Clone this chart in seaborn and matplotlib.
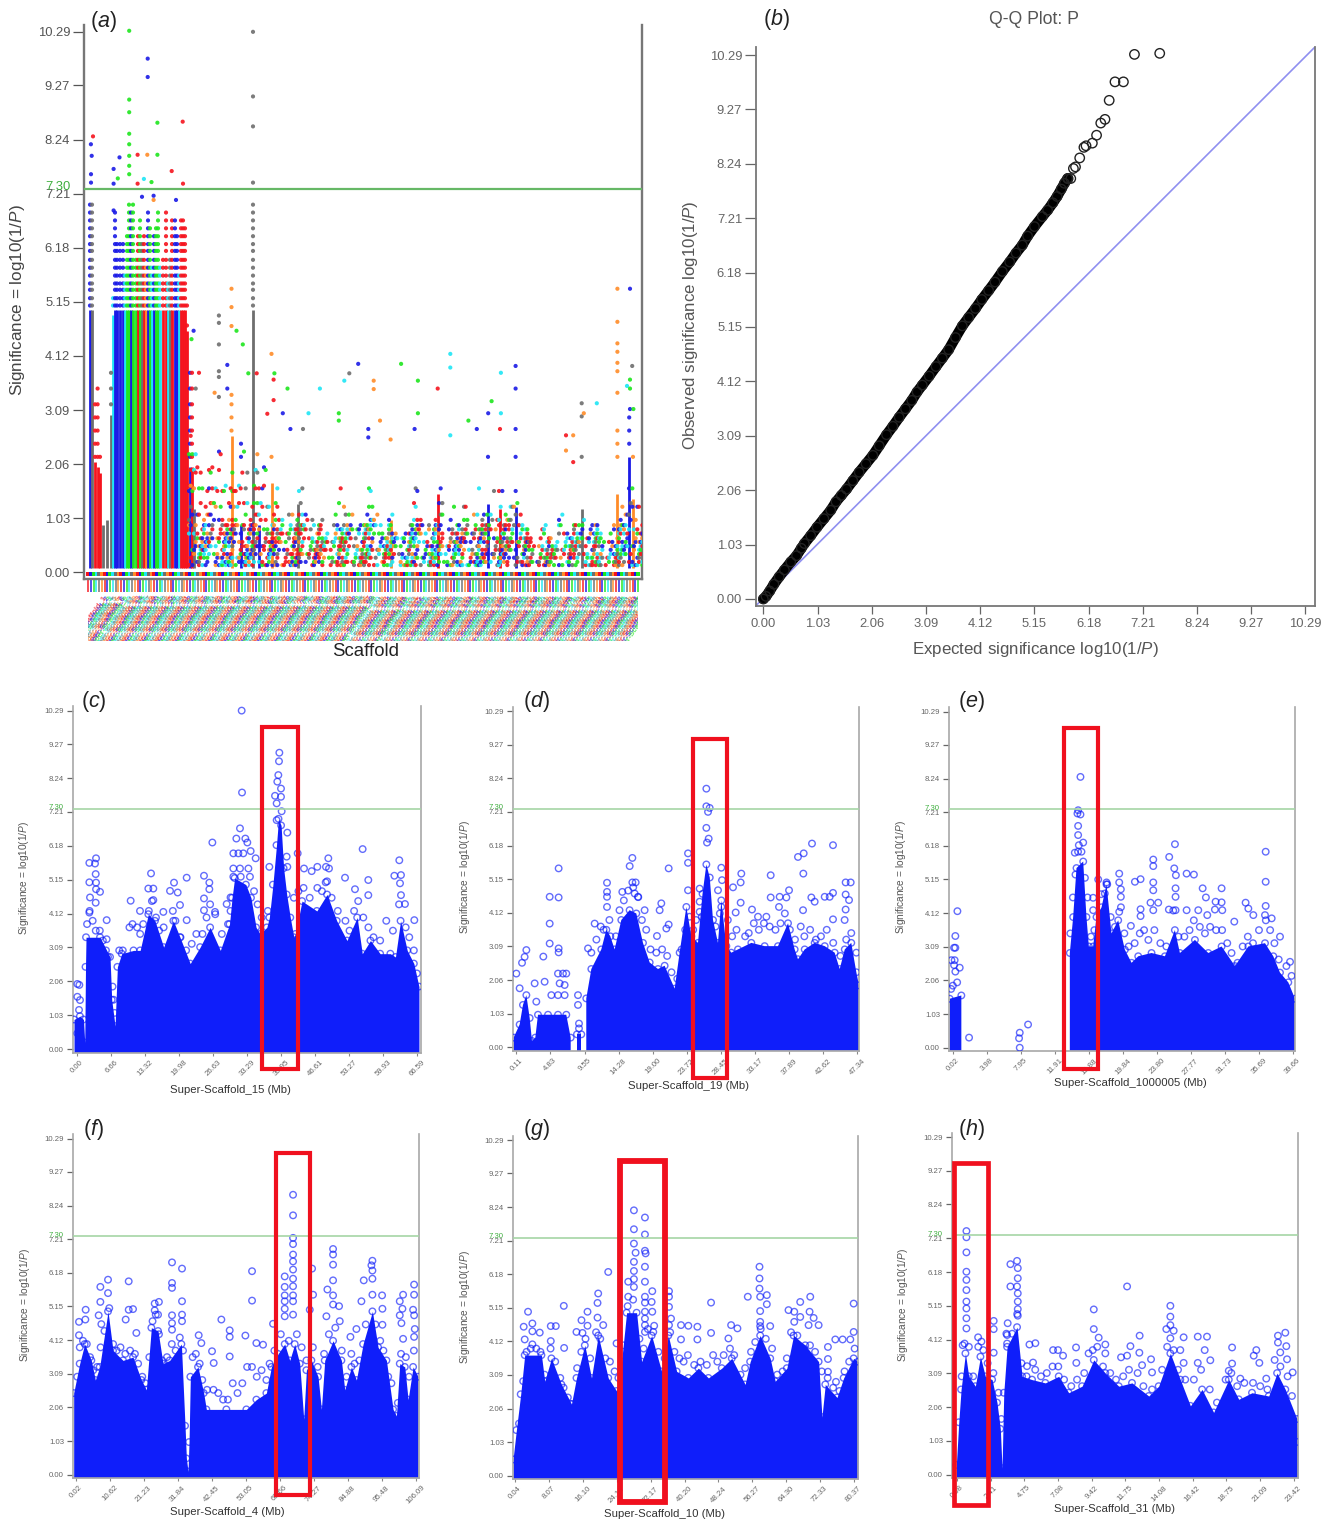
# GWAS figure: genome wide Manhattan, Q-Q plot and six scaffold Manhattan panels
import numpy as np
import pandas as pd
import matplotlib
matplotlib.use("Agg")
import matplotlib.pyplot as plt
from matplotlib.patches import Rectangle
from matplotlib.transforms import Bbox
import seaborn as sns

W, H = 1333, 1520
SIG_TICKS = [0.00, 1.03, 2.06, 3.09, 4.12, 5.15, 6.18, 7.21, 8.24, 9.27, 10.29]
THRESHOLD = 7.30
YLAB = r"Significance = log10(1/$\mathit{P}$)"

# ------------------------------ (a) all scaffolds ------------------------------
A_COLORS = {"r": "#F5141E", "b": "#1A1AE6", "g": "#1EE61E", "c": "#1EE6F5",
            "y": "#6E6E6E", "o": "#FF8C28"}
a_cycle = ["r", "b", "g", "c", "y", "o"]

# solid scaffolds: position, top of the solid part, top of the dots, colour
a_strip_x = [6, 8, 11, 13.6, 16, 19, 23, 27, 29, 31, 33, 36, 39, 41, 43, 45, 47, 49, 52, 54, 56, 58, 60,
             62, 64, 66, 68, 70, 72, 74, 76, 79, 82, 84, 86, 88, 91, 93, 95, 97, 99, 101, 103, 106, 108,
             110, 147.5, 157, 169, 175, 187.5, 213.6, 306.6, 353.7, 404, 416, 431.6, 497.7,
             533.4, 545.2, 549]
a_strip_top = [5.0, 5.0, 2.1, 2.0, 1.9, 0.9, 1.0, 3.0, 4.9, 5.0, 5.0, 5.0, 5.0, 5.0, 5.0, 5.0, 5.0, 5.0, 5.0, 5.0, 5.0, 5.0, 5.0,
               5.0, 5.0, 5.0, 5.0, 5.0, 5.0, 5.0, 5.0, 5.0, 5.0, 5.0, 5.0, 5.0, 5.0, 5.0, 5.0, 5.0, 5.0, 5.0, 4.6, 2.0, 2.0,
               1.2, 2.6, 0.9, 5.0, 0.9, 1.7, 1.3, 1.0, 1.5, 1.3, 1.2, 1.25, 1.2,
               1.5, 2.2, 1.4]
a_strip_dots = [7.2, 7.1, 3.2, 3.5, 2.4, 1.3, 1.6, 3.9, 5.3, 6.9, 6.3, 6.3, 6.3, 5.7, 6.5, 7.0, 6.9, 7.0, 6.0, 6.4, 6.7, 6.3, 6.4,
                5.8, 6.9, 6.6, 5.8, 6.4, 6.6, 6.9, 5.8, 6.0, 6.9, 5.6, 6.1, 6.7, 6.7, 6.4, 5.7, 6.7, 6.7, 6.6, 5.2, 3.8, 3.8,
                2.0, 3.3, 2.5, 7.0, 1.7, 2.4, 1.3, 1.0, 1.6, 2.3, 1.6, 2.4, 2.3,
                2.7, 3.1, 2.4]
a_strip_c = ["b", "y", "r", "r", "r", "y", "y", "y", "c", "b", "b", "b", "b", "c", "g", "g", "b", "g", "g", "r", "g", "y", "r",
             "o", "b", "g", "c", "b", "g", "g", "c", "r", "r", "c", "y", "r", "b", "b", "c", "r", "r", "r", "r", "b", "r",
             "y", "o", "b", "y", "b", "o", "y", "o", "r", "b", "r", "b", "y",
             "o", "b", "o"]
a_dot_rows = [2.2, 2.45, 2.7, 2.95, 3.2, 3.5, 3.8, 4.1, 4.4, 4.7, 5.08, 5.22, 5.38, 5.5, 5.65, 5.8,
              5.95, 6.12, 6.25, 6.4, 6.55, 6.7, 6.85, 7.0]

# speckled floor of the small scaffolds, top of each column read left to right
a_col_top = [2.6, 2.3, 1.9, 1.7, 2.2, 1.6, 2.3, 1.7, 2.0, 1.6, 1.9, 2.3, 1.6, 2.3, 1.6, 2.2, 1.3, 1.6, 1.2, 1.0,
             1.3, 1.2, 1.6, 1.3, 1.2, 0.9, 1.0, 0.8, 0.7, 1.2, 1.6, 1.3, 1.2, 0.9, 0.9, 1.3, 1.6, 1.1, 0.9, 0.8,
             1.2, 0.8, 0.9, 0.8, 1.3, 1.6, 1.2, 0.8, 0.9, 1.0, 1.6, 0.8, 1.2, 1.3, 0.9, 1.5, 0.8, 1.3, 1.6, 1.3,
             1.3, 1.6, 1.6, 1.3, 1.3, 1.6, 1.2, 0.9, 0.7, 0.6, 1.0, 0.9, 0.7, 0.6, 1.2, 0.8, 0.7, 0.9, 1.0, 1.2,
             0.9, 1.0, 0.8, 0.7, 0.8, 0.9, 1.4, 1.2, 1.8, 1.4, 1.3]
a_col_rows = [0.14, 0.2, 0.28, 0.35, 0.43, 0.5, 0.58, 0.65, 0.74, 0.82, 0.9, 1.0, 1.1, 1.25, 1.32, 1.55, 1.6, 1.65,
              1.9, 1.95, 2.0, 2.25, 2.3, 2.6]
# hand picked fill pattern and colour order, which keep the floor irregular
a_mask = [1, 0, 0, 1, 0, 1, 0, 0, 0, 1, 1, 0, 0, 0, 1, 0, 1, 0, 0, 1, 0, 0, 1, 1, 0, 0, 0, 1, 0, 0, 1, 0, 1, 0, 0, 0, 1]
a_color_seq = list("rbgocybrgcroybgrc")

# single points standing clear of the columns
a_out_x = [6.9, 9, 7.7, 7.0, 7.0, 45.2, 63.7, 63.7, 45.2, 45.2, 73.4, 45.2, 98.7, 45.2, 45.2, 53.6, 63.3, 73.4,
           35.5, 29.6, 87.7, 59.9, 67.5, 99, 53.6, 29.6, 33.8, 45.2, 45.2, 169, 169, 169, 169, 58, 69.6, 92, 69.6, 29.6,
           147.5, 147.5, 147.5, 134.9, 134.9, 134.9, 152.5, 158.8, 187.5, 189.6, 189.6, 190.4, 134.9, 134.9, 143.3,
           143.3, 130.6, 134.9, 147.5, 115, 107.5, 109.6, 111.7, 164.3, 172.7, 183.3, 203.5, 198.8, 224.5, 235.9,
           289.7, 289.7, 353.7, 274.2, 265.3, 260.3, 317.1, 333.9, 333.9, 366.3, 366.3, 416.9, 431.6, 431.6, 407.6,
           404.2, 416.9, 497.7, 497.7, 499.8, 512.8, 533.4, 546, 533.4, 533.4, 533.4, 533.4, 533.4, 533.4, 548.2,
           546, 543, 546, 546, 549.4, 482, 482, 489.2, 489.2, 384.4, 296, 306.6, 254.8, 254.8, 284.3, 284.3, 330.6,
           392.8, 431.6, 416, 219, 206.4, 366.3]
a_out_y = [8.15, 8.3, 7.93, 7.58, 7.42, 10.31, 9.78, 9.43, 9.0, 8.76, 8.56, 8.35, 8.58, 8.15, 7.93, 7.95, 7.95, 7.95,
           7.9, 7.68, 7.64, 7.49, 7.43, 7.4, 7.4, 7.4, 7.5, 7.74, 7.58, 10.29, 9.06, 8.49, 7.42, 7.15, 7.17, 7.09, 7.09, 6.89,
           5.4, 5.05, 4.69, 4.89, 4.75, 4.34, 4.6, 4.34, 4.16, 3.67, 3.28, 3.79, 3.83, 3.72, 3.95,
           3.5, 3.42, 3.34, 3.38, 3.8, 4.44, 4.6, 3.5, 3.79, 3.79, 3.02, 3.5, 3.03, 3.03, 3.5,
           3.65, 3.49, 3.5, 3.97, 3.79, 3.65, 3.97, 3.65, 3.03, 4.16, 3.9, 3.8, 3.93, 3.5, 3.26,
           3.03, 3.03, 3.22, 2.97, 3.03, 3.22, 5.4, 5.4, 4.77, 4.36, 4.2, 3.99, 3.83, 3.42, 3.93,
           3.67, 3.55, 3.5, 3.11, 3.11, 2.61, 2.32, 2.61, 2.1, 2.89, 2.89, 2.53, 3.03, 2.89, 2.73, 2.57, 2.73,
           2.73, 2.73, 2.73, 2.73, 2.73, 2.61]
a_out_c = list("brbbbgbbggggrggrog" "bbrcgrrbgggyyyybbbob" "oooyyyggorrgyyb" "boyorgbygrrgbcc"
               "oorbycgggcccbbg" "bcyyocobooooooy" "gcgbgroorgooggbbb" "bbrybc")

# ------------------------------ (b) Q-Q plot ------------------------------
qq_expected = [0.00, 0.05, 0.12, 0.20, 0.30, 0.40, 0.52, 0.63, 0.72, 0.78,
               0.90, 1.02, 1.15, 1.28, 1.38, 1.48, 1.58, 1.70, 1.82, 1.95,
               2.08, 2.20, 2.34, 2.46, 2.58, 2.70, 2.82, 2.92, 3.02, 3.15,
               3.28, 3.40, 3.52, 3.65, 3.78, 3.90, 4.03, 4.15, 4.28, 4.40,
               4.54, 4.68, 4.80, 4.92, 5.02, 5.15, 5.30, 5.40, 5.50, 5.58,
               5.66, 5.72, 5.78]
qq_observed = [0.00, 0.05, 0.15, 0.28, 0.42, 0.55, 0.70, 0.82, 0.96, 1.05,
               1.20, 1.36, 1.52, 1.68, 1.84, 1.96, 2.08, 2.24, 2.40, 2.56,
               2.72, 2.90, 3.11, 3.27, 3.44, 3.60, 3.76, 3.92, 4.05, 4.22,
               4.40, 4.56, 4.72, 4.95, 5.17, 5.33, 5.50, 5.67, 5.84, 6.00,
               6.20, 6.38, 6.55, 6.70, 6.87, 7.05, 7.24, 7.36, 7.50, 7.62,
               7.76, 7.87, 7.96]
qq_tail_e = [5.79, 5.84, 5.89, 5.93, 6.01, 6.09, 6.13, 6.25, 6.33, 6.41, 6.49, 6.57, 6.68, 6.84, 7.05, 7.53]
qq_tail_o = [7.96, 7.96, 8.15, 8.18, 8.35, 8.55, 8.58, 8.63, 8.78, 9.01, 9.08, 9.44, 9.79, 9.79, 10.31, 10.33]

# ------------------------------ (c) Super-Scaffold_15 ------------------------------
c_ticks = ["0.00", "6.66", "13.32", "19.98", "26.63", "33.29", "39.95", "46.61", "53.27", "59.93", "66.59"]
c_env_x = [-0.65, 0.5, 1.2, 1.45, 1.6, 1.7, 4.44, 6.4, 6.73, 7.39, 7.84, 8.69, 11, 12.3, 13.9, 15.2, 16.9, 18.8,
           20.1, 22.1, 24.05, 26, 28, 29.8, 30.3, 30.8, 33.0, 34.0, 35.0, 35.8, 37.1, 37.6, 38.3, 39.0, 39.4, 39.9,
           40.4, 41.0, 41.7, 42.4, 42.7, 44, 46.9, 48.9,
           50.8, 52.8, 54.8, 55.8, 57.4, 59.3, 61.3, 62.3, 63.3, 64.6, 65.9, 66.9]
c_env_y = [0.9, 1.0, 0.9, 0.2, 2.5, 3.4, 3.4, 2.8, 1.5, 0.7, 2.5, 2.9, 3.0, 3.0, 4.1, 3.9, 3.1, 3.9,
           3.4, 2.6, 3.1, 3.7, 3.0, 3.8, 4.6, 5.2, 5.0, 4.6, 3.7, 3.5, 3.7, 4.0, 5.0, 6.2, 7.0, 6.8,
           5.5, 4.7, 4.0, 3.4, 3.5, 4.5, 4.2, 4.7,
           3.9, 3.3, 4.0, 2.9, 3.3, 2.9, 2.9, 2.8, 3.9, 3.0, 2.6, 1.9]
c_out_x = [32.18, 32.25, 31.85, 31.14, 32.9, 33.29, 26.44, 33.94, 34.92, 37.6, 39.56, 39.49, 39.36, 39.16, 39.88, 38.71,
           39.88, 39.03, 40.01, 39.03, 41.12, 40.99, 41.12, 43.15, 44.39, 45.89, 47, 48.69, 49.15, 49.28, 48.63, 52.42,
           55.87, 54.37, 56.98, 56.98, 63.05, 62.08, 63.38, 63.19, 63.38, 64.16, 65.99, 2.35, 3.66, 3.46, 3.59, 2.35,
           3.66, 3.66, 4.44, 2.48, 3.59, 2.35, 5.74, 5.74, 10.44, 12.27, 14.43, 13.9, 14.88, 14.88, 16.84, 18.93, 18.15,
           19.65, 20.1, 21.41, 21.41, 24.8, 25.85, 25.85, 24.8, 24.8, 26.96, 29.24, 30, 30.55, 31.54, 32.5, 30.55, 31.85,
           33.5, 30.55, 32.0, 33.8, 0, 0.39, 0, 0.52, 0.33, 0]
c_out_y = [10.29, 7.8, 6.71, 6.4, 6.4, 6.28, 6.28, 6.02, 5.8, 5.54, 9.01, 8.75, 8.33, 8.13, 7.92, 7.7,
           7.67, 7.47, 7.23, 6.96, 6.58, 5.85, 5.54, 5.95, 5.49, 5.41, 5.54, 5.54, 5.8, 5.49, 5.07, 5.21,
           6.08, 4.86, 5.14, 4.68, 5.74, 5.27, 5.29, 5.04, 4.68, 4.41, 3.92, 5.66, 5.8, 5.64, 5.32, 5.07,
           5.06, 4.86, 4.78, 4.61, 4.45, 4.15, 3.92, 3.34, 4.51, 4.2, 5.34, 4.88, 4.88, 4.53, 4.17, 5.06, 4.81,
           4.76, 4.38, 5.21, 3.92, 5.27, 5.06, 4.86, 4.58, 4.22, 4.17, 4.41, 4.61, 5.95, 5.95, 5.95, 5.49, 5.49,
           5.49, 5.24, 5.24, 5.24, 1.98, 1.95, 1.59, 1.49, 1.19, 0.48]
# rings crowding the upper edge of the solid mass
c_edge_x = [1.9, 2.4, 3.0, 3.6, 4.4, 5.0, 5.6, 6.0, 6.9, 7.1, 7.3, 8.2, 8.9, 10.2, 10.8, 11.7, 12.3, 12.9, 14.0, 14.6,
            15.4, 16.0, 16.9, 18.7, 19.2, 20.2, 21.3, 22.4, 23.3, 24.5, 25.3, 26.0, 27, 28.3, 29.5, 30, 34.6, 35.3, 36.1,
            37.3, 42.4, 43.3, 44.3, 45.5, 47, 47.9, 48.9, 49.8, 51, 52.5, 53.3, 54.2, 55, 56, 57, 58, 59.3, 60.5, 61.8,
            63, 64.3, 65, 65.9, 66.5]
c_edge_y = [3.8, 4.2, 3.9, 3.6, 3.6, 3.3, 3.0, 2.8, 1.9, 1.5, 1.1, 3.0, 3.0, 3.7, 3.8, 3.7, 3.5, 3.8, 4.2, 4.5,
            4.0, 3.6, 3.7, 4.2, 3.9, 3.4, 3.0, 3.2, 3.5, 3.5, 4.0, 4.4, 4.1, 3.5, 3.8, 4.2, 4.8, 4.4, 4.0,
            4.2, 4.6, 4.8, 4.9, 4.6, 4.9, 4.8, 5.1, 4.6, 4.2, 3.9, 3.6, 4.2, 4.5, 4.0, 3.7, 3.4, 3.3, 3.9, 3.6,
            4.4, 3.7, 3.4, 3.0, 2.3]

# ------------------------------ (d) Super-Scaffold_19 ------------------------------
d_ticks = ["0.11", "4.83", "9.55", "14.28", "19.00", "23.72", "28.45", "33.17", "37.89", "42.62", "47.34"]
d_env_x = [-0.26, 0.57, 1.03, 1.5, 1.96, 2.28, 2.74, 3.11, 4.5, 5.88, 7.03, 7.64, 7.96, 8.42, 8.51, 9.11, 9.3, 9.57,
           9.8, 10.5, 11.88, 12.58, 13.13, 13.73, 14.65, 15.8, 16.73, 17.65, 18.58, 19.73, 20.65, 22.04, 22.73, 23.66,
           24.35, 25.27, 25.9, 26.43, 26.9, 27.35, 28.04, 28.5, 29.2, 29.89, 30.81, 32.66, 34.5, 36.35, 37.74, 38.66, 39.12, 40.05,
           41.43, 42.82, 44.2, 44.9, 45.6, 46.5, 47.2, 47.57]
d_env_y = [0.3, 0.7, 1.3, 1.6, 0.9, 0.2, 0.3, 1.0, 1.0, 1.0, 1.0, 0.3, 0, 0, 0.4, 0.4, 0, 0,
           1.5, 2.4, 3.0, 3.6, 3.4, 3.0, 3.9, 4.2, 4.1, 3.2, 2.6, 2.4, 2.5, 1.8, 2.9, 4.3,
           3.4, 3.2, 4.7, 5.6, 5.2, 3.9, 3.2, 4.5, 3.1, 2.9, 3.0, 3.2, 3.1, 3.1, 3.8, 3.0, 2.7, 3.0,
           3.2, 3.1, 2.9, 2.4, 3.0, 3.2, 2.3, 1.9]
d_out_x = [26.43, 26.43, 26.89, 26.66, 26.43, 26.75, 26.52, 23.89, 23.89, 21.21, 16.18, 15.81, 5.97, 4.73, 5.97, 4.73,
           4.73, 5.97, 5.97, 3.85, 1.5, 1.26, 0.9, 0.11, 0.57, 41.06, 43.97, 39.91, 39.12, 39.86, 31.27, 31.18, 35.34,
           28.5, 28.6, 30.12, 31.18, 37.88, 35.34, 36.58, 37.51, 40.97, 41.43, 42.82, 43.51, 43.97, 45.72, 46.42, 45.72,
           46.19, 45.72, 45.58, 12.67, 12.67, 12.67, 14.79, 16.18, 16.64, 16.5, 16.96, 17.88, 20.19, 19.96, 19.59, 20.89,
           21.21, 32.75, 30.49, 23.89, 25.5, 25.5, 25.5, 28.04, 28.5, 10.96, 10.04, 12.67, 39.82, 36.49, 33.58, 34.74,
           43.97, 2.65, 4.03, 4.96, 5.88, 6.57, 7.03, 6.11, 6.8, 6.8, 5.88, 2.88, 8.65, 8.65, 8.79, 8.79]
d_out_y = [7.92, 7.38, 7.33, 7.21, 6.72, 6.39, 6.27, 5.94, 5.65, 5.48, 5.8, 5.55, 5.48, 4.61, 4.59, 3.79,
           3.18, 3.03, 2.91, 2.78, 2.98, 2.77, 2.59, 2.26, 1.81, 6.24, 6.19, 5.94, 5.83, 5.32, 5.32, 5.05, 5.27,
           5.5, 5.12, 4.9, 4.43, 4.81, 4.59, 4.61, 4.59, 4.59, 4.46, 4.61, 4.61, 4.73, 5.05, 5.05, 4.68,
           4.51, 4.22, 3.9, 5.04, 4.76, 4.61, 4.76, 5.05, 5.05, 4.71, 4.61, 4.2, 4.41, 4.2, 3.41, 3.64,
           3.76, 4.22, 4.13, 4.81, 4.86, 4.46, 4.15, 4.81, 4.3, 3.79, 3.03, 4.3, 4.2, 4.3, 4.0, 4.0,
           3.92, 1.96, 2.01, 1.6, 2.26, 2.26, 2.26, 1.96, 1.91, 1.6, 1.6, 1.4, 1.6, 1.3, 0.73, 0.58]
d_edge_x = [10.5, 11.2, 11.8, 12.2, 13.0, 13.9, 14.4, 15, 15.6, 16.3, 17, 17.5, 18.1, 18.7, 19.5, 20.3, 21, 21.6, 22.4,
            23, 23.5, 24.1, 24.6, 25, 25.8, 27.7, 28.3, 29.4, 30, 30.6, 31.8, 32.3, 33, 33.7, 34.4, 35.2, 36, 36.7, 37.3,
            38, 38.7, 39.5, 40, 40.8, 41.6, 42.3, 43.1, 44, 45, 45.8, 46.5, 47.2]
d_edge_y = [2.9, 3.3, 3.7, 3.6, 3.9, 3.4, 4.2, 4.5, 4.8, 4.9, 4.6, 3.9, 3.6, 3.0, 2.9, 3.0, 2.8, 2.3, 2.1,
            3.0, 3.6, 4.0, 3.6, 3.9, 4.0, 3.7, 4.1, 3.9, 3.4, 3.6, 3.4, 3.5, 3.8, 3.6, 3.8, 3.7, 3.6, 3.8, 4.1,
            3.6, 3.3, 3.7, 3.4, 3.6, 3.3, 3.4, 3.6, 3.2, 2.8, 3.3, 3.5, 2.9]

# ------------------------------ (e) Super-Scaffold_1000005 ------------------------------
e_ticks = ["0.02", "3.98", "7.95", "11.91", "15.88", "19.84", "23.80", "27.77", "31.73", "35.69", "39.66"]
e_env_x = [-0.45, -0.37, 0.99, 1.19, 13.56, 13.64, 14.03, 14.42, 15.2, 15.58, 15.86, 16.36, 16.75, 17.34, 17.92, 18.5,
           19.28, 20.06, 20.84, 21.62, 23.17, 24.73, 25.89, 26.48, 28.23, 29.79, 31.34, 32.9, 34.46, 36.4, 37.37, 38.15,
           39.12, 39.9]
e_env_y = [0, 1.5, 1.6, 0, 0, 2.9, 4.0, 5.5, 5.7, 4.0, 3.1, 3.1, 4.0, 4.3, 5.0, 3.5,
           3.9, 3.0, 2.6, 2.8, 2.9, 2.8, 3.6, 2.9, 3.3, 2.9, 3.1, 2.5, 3.1, 3.2, 2.8, 2.3,
           2.0, 1.5]
e_out_x = [0.53, 0.29, 0.14, 0.29, 0.21, -0.17, 0.14, 0.8, 0.29, 1.89, 7.8, 7.72, 7.8, 8.77, 14.88, 14.61, 14.53, 14.88,
           14.61, 14.61, 14.69, 15.2, 14.22, 16.95, 16.36, 16.36, 17.92, 17.72, 19.4, 19.4, 19.59, 19.59, 19.4, 21.23,
           21.89, 21.89, 21.89, 20.76, 23.37, 23.37, 23.37, 23.37, 23.05, 23.95, 23.37, 25.23, 25.9, 25.82, 26.01, 25.97,
           25.97, 25.97, 25.19, 27.26, 28.11, 27.26, 28.62, 29.13, 29.51, 29.67, 31.34, 30.64, 31.34, 30.56, 31.42, 32.82,
           34.14, 34.46, 35.04, 36.48, 36.48, 36.48, 36.4, 37.18, 38.15, 39.32]
e_out_y = [4.18, 3.42, 3.06, 3.06, 2.68, 2.68, 2.53, 2.45, 2.33, 0.31, 0.46, 0.29, 0.0, 0.71, 8.29, 7.27, 7.17, 7.14,
           6.79, 6.51, 6.2, 6.28, 5.97, 5.15, 4.59, 4.21, 5.06, 4.72, 5.33, 5.06, 4.85, 4.62, 4.16, 5.08,
           5.16, 4.24, 4.03, 3.73, 5.76, 5.56, 5.06, 4.82, 4.44, 4.44, 4.21, 5.84, 6.23, 5.49, 5.28, 4.88,
           4.62, 4.21, 4.23, 5.33, 5.3, 4.21, 4.21, 4.88, 4.6, 4.06, 4.88, 4.47, 4.45, 4.23, 4.21, 3.86,
           4.44, 4.26, 4.06, 6.0, 5.08, 4.34, 4.06, 3.96, 3.4, 2.63]
e_edge_x = [13.7, 14, 14.3, 14.6, 15, 15.4, 15.7, 16.1, 16.5, 17.3, 18, 18.4, 18.9, 19.6, 20, 20.5, 21.2, 21.8, 22.3, 22.8,
            23.5, 24.2, 24.9, 25.7, 26.3, 27, 27.6, 28.1, 28.8, 29.4, 30, 30.7, 31.4, 32, 32.5, 33.2, 33.8, 34.4, 35, 35.7,
            36.5, 37, 37.5, 38, 38.9, 39.5, 0.0, 0.5, -0.2]
e_edge_y = [3.5, 4.6, 5.3, 6.0, 6.0, 5.2, 4.6, 3.4, 3.6, 4.7, 5.0, 4.0, 3.7, 4.3, 3.5, 3.1, 3.2, 3.5, 3.6, 3.3,
            3.6, 3.2, 3.1, 4.2, 3.4, 3.4, 3.6, 3.9, 3.7, 3.5, 3.7, 3.6, 3.6, 3.2, 2.9, 2.6, 3.1, 3.4, 3.2, 3.6,
            3.9, 3.6, 3.2, 2.7, 2.5, 2.2, 1.9, 2.0, 1.8]

# ------------------------------ (f) Super-Scaffold_4 ------------------------------
f_ticks = ["0.02", "10.62", "21.23", "31.84", "42.45", "53.05", "63.66", "74.27", "84.88", "95.48", "106.09"]
f_env_x = [-0.6, 1.27, 2.83, 4.91, 6.16, 7.51, 10.11, 11.67, 14.79, 17.91, 20.51, 22.07, 23.63, 25.71, 27.27, 29.35,
           32.99, 34.13, 34.55, 35.07, 35.38, 35.79, 38.18, 39.95, 40.78, 47.02, 53.26, 56.38, 59.5, 61.06, 63.14, 65.22,
           66.78, 68.34, 69.9, 71.15, 71.98, 73.54, 75.62, 76.66, 77.7, 80.3, 82.9, 83.94, 86.02, 87.58, 89.66, 92.57,
           94.34, 96.94, 99.02, 100.06, 101.1, 102.66, 103.7, 105.26, 106.82]
f_env_y = [2.5, 3.4, 4.0, 3.5, 2.9, 3.3, 5.0, 3.8, 3.5, 3.6, 2.9, 2.6, 4.5, 4.4, 3.4, 3.5,
           4.0, 1.5, 0.5, 0.1, 1.0, 3.0, 3.3, 2.5, 2.0, 2.0, 2.0, 2.3, 2.5, 3.3, 3.7, 4.0,
           3.5, 4.0, 3.4, 1.7, 3.2, 3.5, 3.0, 2.0, 3.5, 4.1, 3.5, 2.6, 3.3, 2.9, 4.0, 5.0,
           3.9, 3.5, 2.0, 1.8, 3.4, 3.3, 2.3, 3.3, 3.0]
f_out_x = [67.82, 67.82, 67.82, 67.82, 67.82, 67.82, 67.82, 67.82, 67.82, 67.82, 67.82, 67.82, 65.22, 65.22, 65.22, 65.22,
           65.22, 65.22, 61.58, 73.75, 74.06, 73.03, 80.3, 80.3, 80.3, 80.3, 78.53, 80.3, 82.17, 80.3, 78.22, 82.38, 92.57,
           92.26, 92.57, 92.57, 89.87, 92.57, 95.59, 89.14, 95.69, 95.69, 87.58, 85.71, 102.14, 101.1, 101.93, 101.1, 101.62,
           105.57, 105.57, 105.26, 105.57, 105.78, 105.57, 102.14, 55.03, 55.03, 45.46, 48.06, 48.06, 52.95, 56.38, 58.46,
           38.39, 39.22, 42.55, 43.07, 48.06, 30.07, 33.19, 30.07, 30.07, 33.19, 30.07, 30.07, 30.07, 33.19, 33.19, 24.67,
           25.98, 24.67, 25.71, 16.56, 10.11, 7.72, 10.11, 7.72, 7.2, 8.03, 3.14, 1.06, 3.04, 1.06, 16.56, 17.91, 15.62, 18.95]
f_out_y = [8.57, 7.94, 7.25, 7.06, 6.74, 6.53, 6.28, 6.0, 5.77, 5.49, 5.31, 4.9, 6.07, 5.75, 5.49, 5.31,
           5.08, 4.85, 4.62, 6.31, 5.51, 5.05, 6.91, 6.74, 6.43, 5.95, 5.67, 5.49, 5.16, 5.21, 4.85, 4.7, 6.55,
           6.41, 6.25, 6.0, 5.95, 5.51, 5.49, 5.31, 5.08, 4.59, 4.46, 4.22, 5.51, 5.31, 5.08, 4.88, 4.64,
           5.82, 5.51, 5.05, 4.88, 4.46, 4.22, 4.16, 6.23, 5.33, 4.75, 4.42, 4.22, 4.26, 4.03, 3.98,
           4.27, 4.03, 3.78, 3.42, 3.62, 6.5, 6.31, 5.87, 5.72, 5.31, 4.88, 4.64, 4.44, 4.9, 4.7, 5.24,
           5.29, 5.03, 4.9, 5.92, 5.97, 5.75, 5.56, 5.29, 4.88, 4.61, 5.05, 4.68, 4.75, 4.27, 5.05, 5.07, 4.75, 4.34]
f_edge_x = [0.5, 1.3, 2.3, 3.5, 4.5, 5.5, 6.7, 7.8, 9, 10.5, 11.7, 12.8, 14, 15.5, 17, 18.5, 19.5, 20.8, 21.8, 23, 24, 25,
            26, 27, 28.5, 30, 31.2, 32.5, 33.5, 36.5, 37.5, 38.7, 39.5, 41, 43, 44.5, 46, 47.5, 49, 50.5, 52, 53.5, 55,
            56.5, 58, 59.5, 60.5, 62, 64, 66.5, 69, 70.5, 72, 74, 75.5, 77.5, 79, 81, 83, 84.5, 86, 87, 88.5, 90.5, 93.5,
            95, 96, 97.5, 98.5, 100.5, 101.5, 103, 104, 105.5]
f_edge_y = [3.0, 3.9, 4.1, 4.0, 3.6, 3.2, 3.3, 3.9, 4.4, 5.1, 4.0, 3.8, 3.9, 3.7, 3.8, 3.7, 3.4, 3.0, 2.8, 3.6, 4.7, 4.9,
            4.3, 3.5, 3.6, 4.0, 3.8, 4.2, 3.8, 3.6, 3.7, 3.4, 2.9, 2.6, 2.6, 2.5, 2.3, 2.3, 2.8, 2.5, 2.8, 3.3, 3.3,
            3.0, 3.2, 2.9, 3.4, 3.8, 4.3, 4.1, 4.3, 3.9, 3.5, 3.9, 3.3, 3.7, 4.3, 4.5, 3.8, 3.0, 3.7, 3.4, 3.5, 4.6, 4.6,
            4.1, 3.8, 3.0, 2.8, 2.2, 3.7, 3.6, 3.0, 3.8]

# ------------------------------ (g) Super-Scaffold_10 ------------------------------
g_ticks = ["0.04", "8.07", "16.10", "24.14", "32.17", "40.20", "48.24", "56.27", "64.30", "72.33", "80.37"]
g_env_x = [-0.52, 0.28, 1.31, 2.26, 6.23, 7.02, 8.6, 10.98, 13.36, 14.55, 16.53, 18.12, 19.71, 22.09, 24.07, 25.26,
           26.45, 28.83, 30.02, 32.4, 34.77, 36.36, 38.34, 41.12, 43.5, 45.88, 49.05, 51.43, 54.6, 55.79, 58.17, 60.55,
           61.74, 64.51, 66.1, 68.87, 72.05, 72.84, 73.63, 76.41, 77.99, 80.37, 81.4]
g_env_y = [0.5, 1.4, 2.5, 3.7, 3.7, 2.9, 3.6, 2.8, 2.2, 3.0, 4.0, 3.0, 4.3, 3.0, 2.6, 3.5,
           5.0, 5.0, 3.5, 4.3, 3.2, 4.3, 3.2, 3.0, 3.3, 3.0, 3.3, 3.6, 2.8, 3.5, 4.3, 3.6,
           2.9, 3.3, 4.3, 4.0, 3.5, 1.8, 2.8, 2.4, 3.0, 3.6, 3.5]
g_out_x = [28.19, 30.81, 28.19, 30.81, 28.19, 28.59, 30.81, 30.97, 28.19, 30.81, 28.19, 30.81, 28.19, 26.84, 28.19, 32.55,
           30.81, 30.81, 26.84, 30.81, 32.4, 30.81, 32.55, 36.52, 36.52, 36.52, 37, 36.52, 30.81, 30.81, 32.79, 22.09, 19.71,
           19.55, 17.17, 19.55, 15.74, 17.17, 20.9, 14.55, 15.98, 11.54, 3.05, 2.02, 4.08, 4.08, 2.26, 5.83, 8.45, 9.64,
           8.45, 4.08, 11.62, 24.07, 39.37, 41.12, 43.26, 39.37, 43.26, 46.51, 46.51, 51.27, 52.77, 50.63, 55.23, 58.01,
           58.01, 58.01, 58.17, 59.75, 59.75, 58.17, 58.17, 58.17, 60.55, 64.9, 66.26, 67.68, 66.26, 67.68, 70.06, 69.9,
           70.87, 72.05, 69.67, 74.26, 76.01, 77.75, 80.37, 80.37, 79.58, 74.26, 74.26, 76.17]
g_out_y = [8.14, 7.92, 7.56, 7.4, 7.12, 6.84, 6.9, 6.82, 6.56, 6.41, 6.28, 5.95, 6.03, 5.95, 5.79, 5.66,
           5.49, 5.31, 5.49, 5.03, 5.33, 4.82, 5.03, 5.66, 5.49, 5.18, 4.82, 4.62, 4.62, 4.41, 4.41, 6.25, 5.59,
           5.3, 5.03, 4.85, 4.77, 4.6, 4.62, 4.41, 4.38, 5.21, 5.03, 4.57, 4.67, 4.43, 4.18, 4.39, 4.59, 4.59,
           4.13, 4.03, 3.92, 4.06, 4.62, 4.6, 4.57, 4.18, 4.18, 5.31, 4.38, 4.62, 4.52, 4.21, 5.49, 6.41,
           6.05, 5.74, 5.49, 5.54, 5.26, 5.05, 4.72, 4.59, 4.59, 5.08, 5.03, 5.33, 4.72, 4.87, 5.49, 5.03,
           4.84, 4.62, 4.62, 3.95, 4.18, 4.18, 5.28, 4.41, 4.18, 3.58, 3.19, 2.88]
g_edge_x = [0.9, 1.9, 2.7, 3.7, 5, 6, 7, 8.4, 9.5, 10.7, 11.5, 12.5, 13.3, 14.7, 15.7, 16.7, 17.8, 19.2, 20.2, 21.4, 22.5,
            23.6, 24.5, 25.7, 26.7, 28, 29.5, 30.5, 31.5, 33, 34, 35.5, 36.8, 37.8, 39, 40, 41, 42.5, 44, 45.5, 47, 48,
            49.5, 51, 52, 53.5, 54.6, 56, 57, 58.3, 59.5, 61, 62.2, 63.5, 64.5, 65.5, 67, 68.5, 70, 71.2, 72.8, 74.2, 75.5,
            77, 78.2, 79.3, 80.6]
g_edge_y = [1.6, 2.9, 3.8, 3.9, 3.9, 3.8, 3.1, 3.9, 3.5, 3.0, 2.7, 2.4, 2.2, 3.3, 3.8, 4.2, 3.6, 4.4, 4.2, 3.6, 3.5,
            3.2, 3.0, 4.0, 5.2, 5.4, 4.2, 3.9, 4.5, 4.6, 3.8, 3.6, 4.4, 3.8, 3.6, 3.5, 3.7, 3.4, 3.5, 3.4, 3.7, 3.5,
            3.7, 3.9, 3.7, 3.1, 3.3, 3.8, 4.1, 4.5, 4.2, 3.9, 3.1, 3.2, 3.6, 4.4, 4.3, 3.9, 4.0, 3.8, 3.2, 3.0, 2.7,
            2.6, 3.2, 3.5, 3.9]

# ------------------------------ (h) Super-Scaffold_31 ------------------------------
h_ticks = ["0.08", "2.41", "4.75", "7.08", "9.42", "11.75", "14.08", "16.42", "18.75", "21.09", "23.42"]
h_env_x = [0.03, 0.2, 0.36, 0.66, 0.89, 1.35, 1.7, 2.04, 2.51, 2.85, 3.08, 3.2, 3.32, 3.55, 4.24, 4.59, 5.28, 6.2,
           7.13, 7.82, 8.75, 9.56, 10.36, 11.29, 12.21, 13.37, 14.06, 14.87, 15.56, 16.26, 17.07, 17.87, 18.92, 19.61,
           20.53, 21.69, 22.27, 22.84, 23.65, 23.72]
h_env_y = [0.3, 1.6, 2.6, 3.7, 3.0, 2.7, 3.6, 3.0, 2.9, 2.2, 1.4, 0.2, 2.5, 3.9, 4.5, 3.0, 2.9, 2.8,
           3.0, 2.5, 2.7, 3.5, 3.1, 2.7, 2.8, 2.4, 2.7, 3.7, 2.9, 2.1, 2.6, 1.9, 2.9, 2.3,
           2.5, 2.4, 3.1, 2.6, 1.7, 1.0]
h_out_x = [0.73, 0.73, 0.73, 0.73, 0.73, 0.73, 0.73, 0.73, 0.73, 0.73, 1.54, 1.77, 0.47, 2.62, 2.62, 2.62, 3.59, 3.78,
           4.24, 4.29, 4.29, 3.78, 4.24, 4.29, 4.29, 4.29, 4.29, 3.55, 3.55, 5.1, 5.51, 4.93, 5.35, 6.74, 7.08, 7.43, 8.33,
           8.35, 9.56, 9.56, 9.9, 9.49, 10.36, 10.36, 11.87, 12.74, 12.1, 11.45, 11.87, 12.72, 12.91, 13.53, 13.6, 14.87,
           14.87, 14.87, 14.59, 15.1, 14.87, 15.56, 15.79, 15.79, 16.77, 17.41, 16.77, 17.25, 17.64, 19.15, 19.15, 18.92,
           19.72, 20.83, 20.65, 21.04, 21.52, 22.33, 22.84, 22.33, 22.91, 22.49, 22.96, 23.35]
h_out_y = [7.43, 7.24, 6.78, 6.19, 5.94, 5.63, 5.28, 5.07, 4.77, 4.46, 4.19, 4.06, 3.95, 4.69, 4.44, 3.72, 4.62, 6.42,
           6.52, 6.3, 5.99, 5.74, 5.74, 5.53, 5.28, 5.05, 4.85, 4.26, 4.0, 3.97, 4.01, 3.31, 3.42, 3.8, 3.8, 3.63, 3.88,
           3.41, 5.04, 4.44, 4.18, 3.8, 3.97, 3.7, 5.74, 4.24, 3.92, 3.58, 3.63, 3.72, 3.34, 3.52, 3.12, 5.15,
           4.82, 4.56, 4.44, 4.39, 4.16, 3.8, 4.19, 3.41, 4.21, 4.21, 3.41, 3.8, 3.49, 3.88, 3.39, 3.17,
           2.93, 3.8, 3.63, 3.41, 2.93, 4.24, 4.33, 4.03, 3.92, 3.73, 3.52, 3.12]
h_edge_x = [0.4, 0.6, 0.9, 1.2, 1.55, 1.9, 2.2, 2.6, 2.95, 3.15, 3.5, 3.9, 4.25, 4.55, 4.9, 5.5, 5.9, 6.3, 6.7, 7.1, 7.5, 8,
            8.4, 8.9, 9.2, 9.8, 10.2, 10.7, 11.1, 11.6, 12, 12.6, 13, 13.6, 14.3, 14.65, 15.1, 15.4, 15.9, 16.5, 17, 17.6,
            18.1, 18.7, 19.1, 19.5, 20, 20.6, 21.1, 21.6, 22.1, 22.5, 23, 23.3]
h_edge_y = [3.0, 4.0, 3.9, 3.0, 3.9, 3.8, 3.4, 3.1, 2.5, 1.7, 4.3, 4.3, 4.9, 3.4, 3.0, 3.2, 3.0, 3.1, 3.3, 3.3, 2.9, 2.7,
            2.9, 3.1, 3.7, 3.9, 3.3, 3.1, 2.9, 3.0, 3.2, 3.1, 2.7, 2.6, 3.2, 3.9, 3.8, 3.2, 2.9, 2.9, 3.2, 2.6,
            2.2, 2.9, 3.1, 2.7, 2.8, 2.8, 2.7, 2.6, 3.5, 3.3, 3.0, 2.4]

BLUE = "#0F1EFA"
RED = "#F0101E"

sns.set_theme(style="white", rc={"axes.linewidth": 1.2})
plt.rcParams["font.family"] = ["Liberation Sans", "DejaVu Sans"]
plt.rcParams["mathtext.fontset"] = "custom"
plt.rcParams["mathtext.rm"] = "Liberation Sans"
plt.rcParams["mathtext.it"] = "Liberation Sans:italic"

fig = plt.figure(figsize=(W / 100, H / 100), dpi=100, facecolor="white")


def new_axes(left, right, top, bottom):
    """Axes placed from its pixel edges in the picture"""
    ax = fig.add_axes([left / W, 1 - bottom / H, (right - left) / W, (bottom - top) / H])
    ax.spines["top"].set_visible(False)
    return ax


def put(px, py, text, **kw):
    kw.setdefault("ha", "center")
    kw.setdefault("va", "center")
    fig.text(px / W, 1 - py / H, text, **kw)


def sig_axis(ax, size, length, color, spine, lw):
    ax.set_yticks(SIG_TICKS)
    ax.set_yticklabels([f"{t:.2f}" for t in SIG_TICKS])
    ax.tick_params(axis="y", left=True, labelsize=size, length=length, width=0.9, color=color,
                   labelcolor=color, pad=2)
    for s in ["left", "right", "bottom"]:
        ax.spines[s].set_color(spine)
        ax.spines[s].set_linewidth(lw)


# ------------------------------ draw (a) ------------------------------
ax = new_axes(84, 642, 25, 579)
ax.set(xlim=(0, 558), ylim=(-0.125, 10.42))
sig_axis(ax, 9.4, 8, "#555555", "#777777", 1.7)
ax.vlines(a_strip_x, 0.08, a_strip_top, colors=[A_COLORS[c] for c in a_strip_c], lw=2.0, zorder=2)

rows = []
for x, top, dots, c in zip(a_strip_x, a_strip_top, a_strip_dots, a_strip_c):
    for level in a_dot_rows:
        if top < level <= dots:
            rows.append((x, level, c))
for i, top in enumerate(a_col_top):
    for sub in range(3):
        for j, level in enumerate(a_col_rows):
            key = (i * 7 + sub * 11 + j * 13) % len(a_mask)
            # rows above 1 are filled about half as often as the ones below
            if level <= top and a_mask[key] and (level < 1 or key % 2 == 0):
                c = a_color_seq[(i * 5 + sub * 3 + j * 2) % len(a_color_seq)]
                rows.append((105 + 5 * i + 1.67 * sub, level, c))
for x, y, c in zip(a_out_x, a_out_y, a_out_c):
    rows.append((x, y, c))
a_dots = pd.DataFrame(rows, columns=["pos", "sig", "scaffold"])
sns.scatterplot(data=a_dots, x="pos", y="sig", hue="scaffold", palette=A_COLORS, s=9, linewidth=0, alpha=0.9,
                legend=False, ax=ax, zorder=3)

# scaffold ticks and their unreadable overlapping labels
a_tick_pos = np.arange(4, 556, 2.75)
a_tick_c = [a_cycle[i % 6] for i in range(len(a_tick_pos))]
zero_row = pd.DataFrame({"pos": a_tick_pos, "sig": -0.03, "scaffold": a_tick_c})
sns.scatterplot(data=zero_row, x="pos", y="sig", hue="scaffold", palette=A_COLORS, s=5, marker="s", linewidth=0,
                legend=False, ax=ax, zorder=3)
ax.axhline(THRESHOLD, color="#66B866", lw=1.6, zorder=4)
ax.set_xticks(a_tick_pos)
ax.set_xticklabels([f"Super-Scaffold_{i + 1}" for i in range(len(a_tick_pos))], rotation=55, ha="center",
                   fontsize=5.5, fontweight="bold")
ax.tick_params(axis="x", bottom=True, length=9, width=1.4, pad=2)
clip = Bbox.from_extents(88, H - 641, 638, H - 595)
for tick, c in zip(ax.xaxis.get_major_ticks(), a_tick_c):
    tick.tick1line.set_markeredgecolor(A_COLORS[c])
    tick.tick1line.set_alpha(0.75)
    tick.label1.set_color(A_COLORS[c])
    tick.label1.set_alpha(0.7)
    tick.label1.set_clip_on(True)
    tick.label1.set_clip_box(clip)
ax.set(xlabel="", ylabel="")
put(71, 187, "7.30", color="#3FAF3F", fontsize=9.4, ha="right")
put(18, 300, YLAB, rotation=90, fontsize=12.3, color="#444444")
put(366, 651, "Scaffold", fontsize=13.4, color="#222222")
put(103, 21, r"($\mathit{a}$)", fontsize=15.5, color="#222222")

# ------------------------------ draw (b) ------------------------------
ax = new_axes(756, 1315, 47, 605.6)
ax.set(xlim=(-0.14, 10.48), ylim=(-0.125, 10.45))
sig_axis(ax, 9.4, 8, "#666666", "#777777", 1.3)
ax.set_xticks(SIG_TICKS)
ax.set_xticklabels([f"{t:.2f}" for t in SIG_TICKS])
ax.tick_params(axis="x", bottom=True, labelsize=9.4, length=6, width=0.9, color="#666666", labelcolor="#666666", pad=3)
sns.lineplot(x=[-0.14, 10.48], y=[-0.125, 10.45], color="#8F8FF0", lw=1.2, ax=ax, zorder=2)
sns.lineplot(x=qq_expected, y=qq_observed, sort=False, estimator=None, color="black", lw=7.5, ax=ax, zorder=3)
sns.scatterplot(x=qq_expected + qq_tail_e, y=qq_observed + qq_tail_o, s=46, facecolor="none", edgecolor="#222222",
                linewidth=1.0, ax=ax, zorder=4)
ax.set(xlabel="", ylabel="")
put(1035, 650, r"Expected significance log10(1/$\mathit{P}$)", fontsize=12.2, color="#555555")
put(690, 325, r"Observed significance log10(1/$\mathit{P}$)", rotation=90, fontsize=12.2, color="#555555")
put(1034, 19, "Q-Q Plot: P", fontsize=12.7, color="#555555")
put(776, 19, r"($\mathit{b}$)", fontsize=15.5, color="#222222")

# ------------------------------ draw (c)-(h) ------------------------------
panels = [
    dict(tag="c", box=(72.7, 421, 706, 1052.7), xlim=(-0.91, 67.3), ylim=(-0.11, 10.43), x0=0.0, x1=66.59, ticks=c_ticks,
         env=(c_env_x, c_env_y), out=(c_out_x + c_edge_x, c_out_y + c_edge_y), rect=(36.1, 43.2, -0.62, 9.8), lw=3.0,
         name="Super-Scaffold_15 (Mb)", xlab=(230, 1090), ylab=(24, 878), lab=(94, 702)),
    dict(tag="d", box=(513, 859, 707, 1051), xlim=(-0.35, 47.57), ylim=(-0.11, 10.42), x0=0.11, x1=47.34, ticks=d_ticks,
         env=(d_env_x, d_env_y), out=(d_out_x + d_edge_x, d_out_y + d_edge_y), rect=(24.6, 29.3, -0.95, 9.45), lw=3.0,
         name="Super-Scaffold_19 (Mb)", xlab=(688, 1086), ylab=(465, 877), lab=(536, 701)),
    dict(tag="e", box=(949, 1295, 707, 1051), xlim=(-0.45, 39.9), ylim=(-0.10, 10.43), x0=0.02, x1=39.66, ticks=e_ticks,
         env=(e_env_x, e_env_y), out=(e_out_x + e_edge_x, e_out_y + e_edge_y), rect=(12.94, 16.95, -0.66, 9.8), lw=3.0,
         name="Super-Scaffold_1000005 (Mb)", xlab=(1130, 1083), ylab=(901, 877), lab=(971, 702)),
    dict(tag="f", box=(73, 419, 1134, 1478), xlim=(-0.81, 107.1), ylim=(-0.10, 10.43), x0=0.02, x1=106.09, ticks=f_ticks,
         env=(f_env_x, f_env_y), out=(f_out_x + f_edge_x, f_out_y + f_edge_y), rect=(62.4, 73.2, -0.63, 9.85), lw=3.0,
         name="Super-Scaffold_4 (Mb)", xlab=(227, 1512), ylab=(25, 1305), lab=(93, 1129)),
    dict(tag="g", box=(513, 858, 1136, 1479), xlim=(-0.52, 81.4), ylim=(-0.10, 10.42), x0=0.04, x1=80.37, ticks=g_ticks,
         env=(g_env_x, g_env_y), out=(g_out_x + g_edge_x, g_out_y + g_edge_y), rect=(25.0, 35.5, -0.8, 9.65), lw=4.2,
         name="Super-Scaffold_10 (Mb)", xlab=(664, 1514), ylab=(465, 1307), lab=(536, 1129)),
    dict(tag="h", box=(952, 1298, 1133, 1478), xlim=(-0.27, 23.72), ylim=(-0.10, 10.42), x0=0.08, x1=23.42, ticks=h_ticks,
         env=(h_env_x, h_env_y), out=(h_out_x + h_edge_x, h_out_y + h_edge_y), rect=(-0.15, 2.23, -0.92, 9.5), lw=3.4,
         name="Super-Scaffold_31 (Mb)", xlab=(1115, 1509), ylab=(903, 1305), lab=(971, 1129)),
]

for p in panels:
    ax = new_axes(*p["box"])
    ax.set(xlim=p["xlim"], ylim=p["ylim"])
    sig_axis(ax, 5.6, 4.5, "#666666", "#A8A8A8", 1.2)
    env_x, env_y = np.array(p["env"][0]), np.array(p["env"][1])
    ax.fill_between(env_x, p["ylim"][0] + 0.01, env_y, where=env_y > 0, color=BLUE, lw=0, zorder=2)
    rings_x = list(env_x[env_y > 0]) + p["out"][0]
    rings_y = list(env_y[env_y > 0]) + p["out"][1]
    sns.scatterplot(x=rings_x, y=rings_y, s=22, facecolor="none", edgecolor=BLUE, linewidth=1.0, alpha=0.65,
                    ax=ax, zorder=3)
    ax.axhline(THRESHOLD, color="#A5D6A5", lw=1.2, zorder=4)
    ax.set_xticks(np.linspace(p["x0"], p["x1"], 11))
    ax.set_xticklabels(p["ticks"], rotation=45, ha="center", fontsize=5.6, color="#666666")
    ax.tick_params(axis="x", bottom=True, length=2.5, width=0.8, color="#888888", pad=2)
    x0, x1, y0, y1 = p["rect"]
    ax.add_patch(Rectangle((x0, y0), x1 - x0, y1 - y0, fill=False, edgecolor=RED, lw=p["lw"], clip_on=False, zorder=10))
    ax.set(xlabel="", ylabel="")
    left, right, top, bottom = p["box"]
    frac = (THRESHOLD - p["ylim"][0]) / (p["ylim"][1] - p["ylim"][0])
    put(left - 9, bottom - frac * (bottom - top) - 1, "7.30", color="#3FAF3F", fontsize=5.6, ha="right")
    put(*p["xlab"], p["name"], fontsize=8.2, color="#333333")
    put(*p["ylab"], YLAB, rotation=90, fontsize=7.3, color="#555555")
    put(*p["lab"], "($\\mathit{" + p["tag"] + "}$)", fontsize=15.5, color="#222222")

fig.savefig("out.png", dpi=100, facecolor="white")
